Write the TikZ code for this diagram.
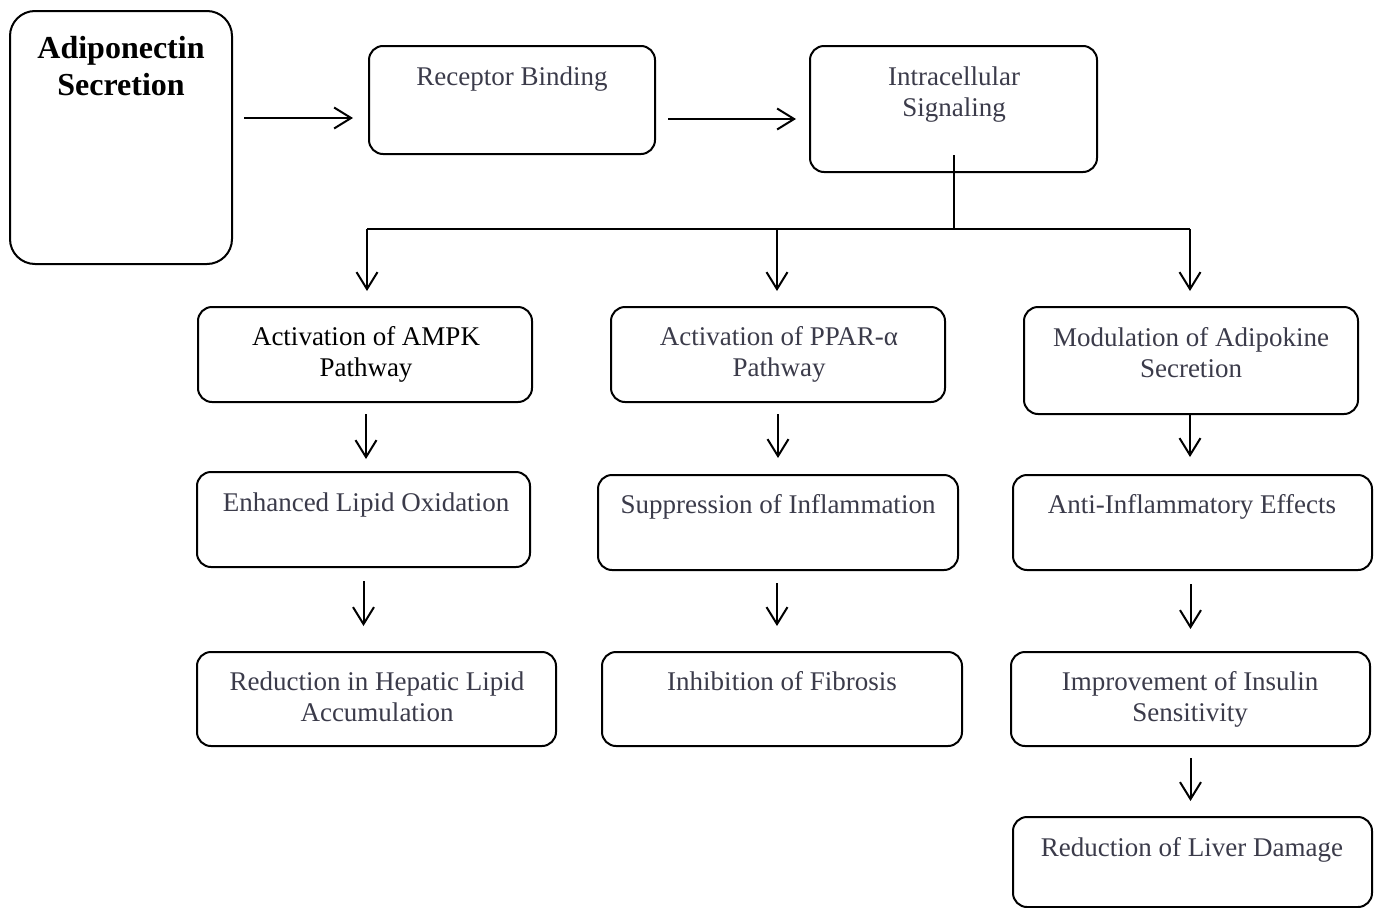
\documentclass[tikz,border=0pt]{standalone}
\usepackage{fontspec}
\setmainfont{Liberation Serif}
\usetikzlibrary{arrows.meta}
\definecolor{txt}{HTML}{3B3B4A}
\tikzset{
  box/.style={draw, line width=2pt, rounded corners=14pt, inner sep=0pt, fill=white},
  lbl/.style={anchor=north, inner sep=0pt, align=center, text=txt,
              font=\fontsize{27}{31}\selectfont},
  lblk/.style={lbl, text=black},
  ttl/.style={anchor=north, inner sep=0pt, align=center, text=black,
              font=\fontsize{32}{37}\selectfont\bfseries},
  ln/.style={line width=2pt},
  arr/.style={line width=2pt, -{Straight Barb[length=17pt,width=21pt,line width=2pt]}}
}
\begin{document}
\begin{tikzpicture}[x=1pt,y=-1pt]
\useasboundingbox (0,0) rectangle (1377,908);
% boxes
\node[box, rounded corners=25pt, minimum width=222pt, minimum height=253pt] (adipo) at (121,137.5) {};
\node[box, minimum width=286pt, minimum height=108pt] (rec) at (512,100) {};
\node[box, minimum width=287pt, minimum height=126pt] (inter) at (953.5,109) {};
\node[box, minimum width=334pt, minimum height=95pt] (ampk) at (365,354.5) {};
\node[box, minimum width=334pt, minimum height=95pt] (ppar) at (778,354.5) {};
\node[box, minimum width=334pt, minimum height=107pt] (mod) at (1191,360.5) {};
\node[box, minimum width=333pt, minimum height=95pt] (lipox) at (363.5,519.5) {};
\node[box, minimum width=360pt, minimum height=95pt] (supp) at (778,522.5) {};
\node[box, minimum width=359pt, minimum height=95pt] (anti) at (1192.5,522.5) {};
\node[box, minimum width=359pt, minimum height=94pt] (hep) at (376.5,699) {};
\node[box, minimum width=360pt, minimum height=94pt] (fib) at (782,699) {};
\node[box, minimum width=359pt, minimum height=94pt] (ins) at (1190.5,699) {};
\node[box, minimum width=359pt, minimum height=90pt] (liver) at (1192.5,862) {};
% texts
\node[ttl] (adipoT) at (121,32.1) {\strut Adiponectin\\Secretion};
\node[lbl] (recT) at (512,63.3) {\strut Receptor Binding};
\node[lbl] (interT) at (954,63.3) {\strut Intracellular\\Signaling};
\node[lblk] (ampkT) at (366,323.3) {\strut Activation of AMPK\\Pathway};
\node[lbl] (pparT) at (779,323.3) {\strut Activation of PPAR-α\\Pathway};
\node[lbl] (modT) at (1191,324.3) {\strut Modulation of Adipokine\\Secretion};
\node[lbl] (lipoxT) at (366,489.3) {\strut Enhanced Lipid Oxidation};
\node[lbl] (suppT) at (778,491.3) {\strut Suppression of Inflammation};
\node[lbl] (antiT) at (1192,491.3) {\strut Anti-Inflammatory Effects};
\node[lbl] (hepT) at (377,668.3) {\strut Reduction in Hepatic Lipid\\Accumulation};
\node[lbl] (fibT) at (782,668.3) {\strut Inhibition of Fibrosis};
\node[lbl] (insT) at (1190,668.3) {\strut Improvement of Insulin\\Sensitivity};
\node[lbl] (liverT) at (1192,834.3) {\strut Reduction of Liver Damage};
% top row arrows
\coordinate (r1) at (0,118);
\coordinate (r2) at (0,119);
\draw[arr, shorten <=11pt, shorten >=15pt] (adipo.east|-r1) -- (rec.west|-r1);
\draw[arr, shorten <=12pt, shorten >=13pt] (rec.east|-r2) -- (inter.west|-r2);
% branching
\coordinate (b1) at (367,229);
\coordinate (b2) at (777,229);
\coordinate (b3) at (1190,229);
\draw[ln] ([yshift=18pt]inter.south) -- (inter.south|-b1);
\draw[ln] (b1) -- (b3);
\draw[arr, shorten >=15pt] (b1) -- (b1|-ampk.north);
\draw[arr, shorten >=15pt] (b2) -- (b2|-ppar.north);
\draw[arr, shorten >=15pt] (b3) -- (b3|-mod.north);
% vertical arrows
\draw[arr, shorten <=11pt, shorten >=12pt] ([xshift=1pt]ampk.south) -- ([xshift=1pt]ampk.south|-lipox.north);
\draw[arr, shorten <=11pt, shorten >=16pt] (ppar.south) -- (ppar.south|-supp.north);
\draw[arr, shorten >=17pt] ([xshift=-1pt]mod.south) -- ([xshift=-1pt]mod.south|-anti.north);
\draw[arr, shorten <=13pt, shorten >=25pt] (lipox.south) -- (lipox.south|-hep.north);
\draw[arr, shorten <=12pt, shorten >=25pt] ([xshift=-1pt]supp.south) -- ([xshift=-1pt]supp.south|-fib.north);
\draw[arr, shorten <=13pt, shorten >=22pt] ([xshift=-2pt]anti.south) -- ([xshift=-2pt]anti.south|-ins.north);
\draw[arr, shorten <=11pt, shorten >=15pt] (ins.south) -- (ins.south|-liver.north);
\end{tikzpicture}
\end{document}
